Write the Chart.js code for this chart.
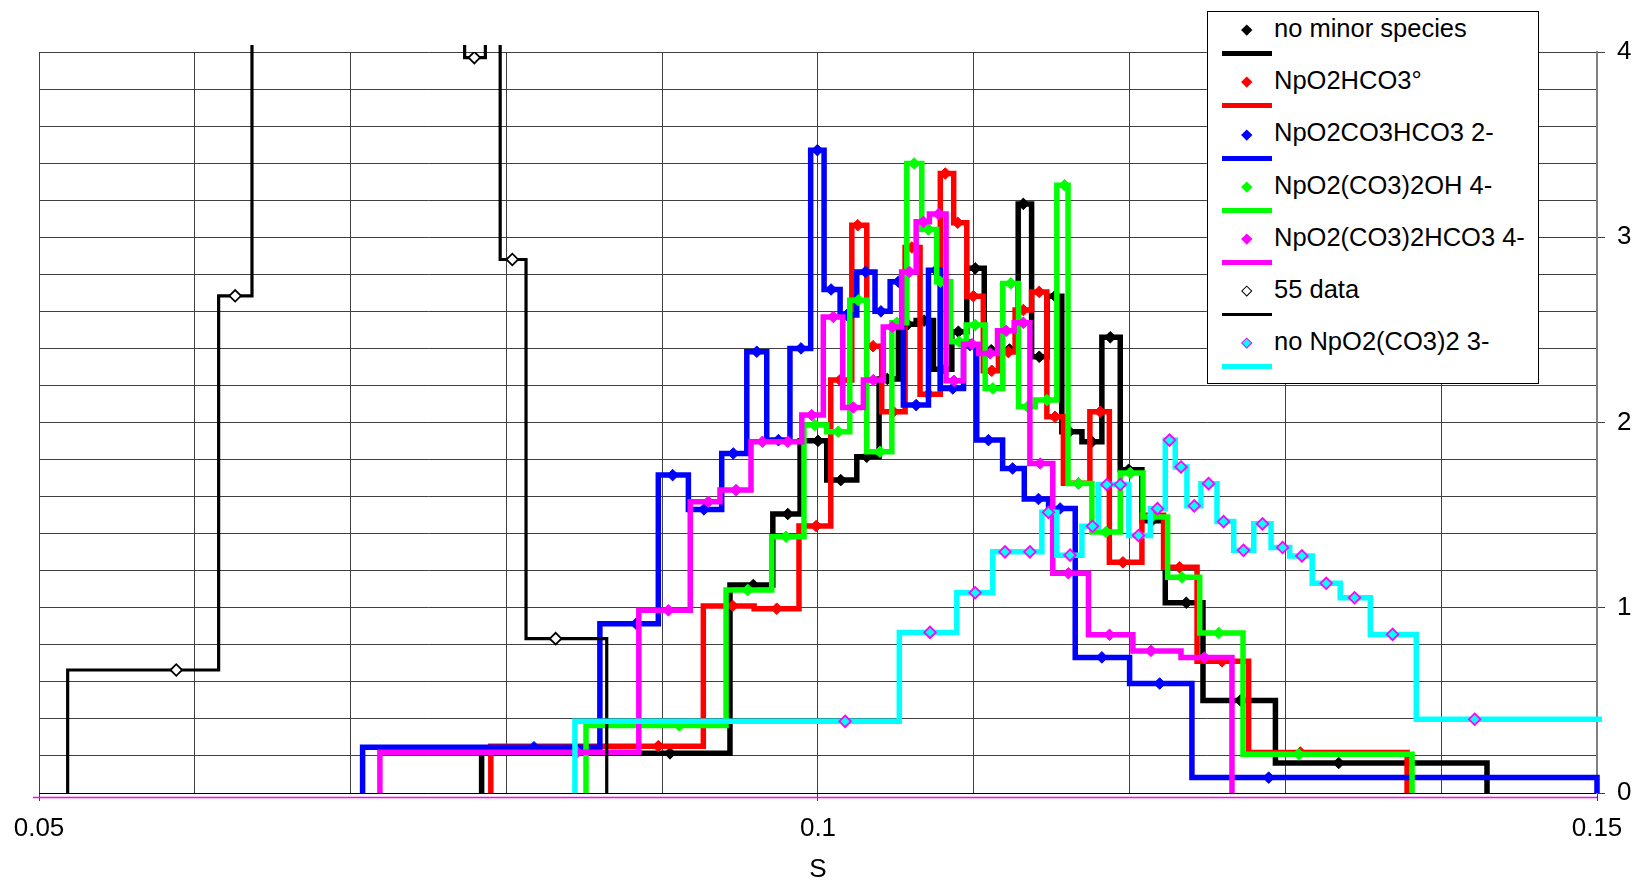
<!DOCTYPE html>
<html lang="en">
<head>
    <meta charset="UTF-8">
    <title>S distribution</title>
    <script src="https://cdn.jsdelivr.net/npm/chart.js"></script>
    <style>
        body {
            margin: 0;
            padding: 0;
            background: #fff;
            font-family: 'Liberation Sans', Arial, sans-serif;
        }
        .wrap {
            position: relative;
            width: 1636px;
            height: 885px;
        }
        #legend {
            position: absolute;
            left: 1207px;
            top: 11px;
            width: 330px;
            height: 371px;
            border: 1.5px solid #000;
            background: #fff;
        }
        .lg-mark {
            position: absolute;
            width: 7.5px;
            height: 7.5px;
            box-sizing: border-box;
            transform: rotate(45deg);
        }
        .lg-line {
            position: absolute;
            left: 14px;
            width: 50px;
        }
        .lg-text {
            position: absolute;
            left: 66px;
            font-size: 25.5px;
            line-height: 30px;
            color: #000;
            white-space: nowrap;
        }
    </style>
</head>
<body>
<div class="wrap">
    <canvas id="sChart" width="1636" height="885"></canvas>
    <div id="legend"></div>
</div>
<script>
    // bin edges (x), bin heights and marker positions for every series
    const blackEdges = [0.07841, 0.09435, 0.0971, 0.09885, 0.10056, 0.10249, 0.10392, 0.10516, 0.1063, 0.10741,
        0.10859, 0.10955, 0.11067, 0.1117, 0.11285, 0.11371, 0.1147, 0.11565, 0.11694, 0.11822,
        0.1194, 0.12079, 0.12229, 0.12471, 0.12936, 0.14294];
    const blackValues = [0.214, 1.123, 1.506, 1.901, 1.689, 1.815, 2.235, 2.53, 2.55, 2.287,
        2.49, 2.832, 2.39, 2.394, 3.18, 2.355, 2.682, 1.95, 1.896, 2.46,
        1.745, 1.47, 1.027, 0.5, 0.162];
    const blackMarks = [0.0905, 0.09585, 0.09806, 0.1, 0.10146, 0.10313, 0.10445, 0.10576, 0.10681, 0.10795,
        0.10901, 0.11009, 0.11112, 0.11229, 0.11318, 0.1142, 0.11521, 0.11614, 0.11758, 0.11876,
        0.11994, 0.12143, 0.12364, 0.12711, 0.13342];

    const redEdges = [0.079, 0.09264, 0.0959, 0.09878, 0.10082, 0.10217, 0.10313, 0.10409, 0.10559, 0.10655,
        0.10785, 0.10871, 0.10955, 0.11061, 0.11158, 0.11265, 0.11371, 0.11469, 0.11575, 0.11745,
        0.1187, 0.12079, 0.12218, 0.12433, 0.12764, 0.13781];
    const redValues = [0.253, 1.01, 0.995, 1.441, 2.229, 3.065, 2.412, 2.058, 2.945, 2.153,
        3.344, 3.078, 2.682, 2.279, 2.38, 2.607, 2.705, 2.031, 1.672, 2.058,
        1.245, 1.5, 1.218, 0.711, 0.218];
    const redMarks = [0.08975, 0.09452, 0.09735, 0.09988, 0.10142, 0.10255, 0.10353, 0.10484, 0.10602, 0.10709,
        0.10817, 0.10897, 0.10997, 0.11115, 0.11222, 0.11318, 0.1142, 0.11521, 0.11672, 0.11811,
        0.11957, 0.1214, 0.12321, 0.12593, 0.13096];

    const blueEdges = [0.07077, 0.086, 0.08975, 0.09168, 0.09382, 0.09543, 0.09671, 0.0982, 0.09953, 0.10039,
        0.10142, 0.10249, 0.10366, 0.10463, 0.10548, 0.10709, 0.10785, 0.10934, 0.11019, 0.11185,
        0.11324, 0.1148, 0.11651, 0.12, 0.124, 0.15];
    const blueValues = [0.247, 0.914, 1.716, 1.531, 1.833, 2.382, 1.905, 2.4, 3.47, 2.718,
        2.58, 2.813, 2.6, 2.76, 2.094, 2.822, 2.184, 2.418, 1.905, 1.752,
        1.587, 1.536, 0.732, 0.591, 0.083];
    const blueMarks = [0.08177, 0.08832, 0.09067, 0.09268, 0.09456, 0.09607, 0.09746, 0.09891, 0.09996, 0.10084,
        0.10185, 0.10305, 0.10404, 0.10516, 0.1063, 0.10758, 0.10865, 0.10976, 0.11094, 0.11249,
        0.11415, 0.11554, 0.11822, 0.12193, 0.12893];

    const greenEdges = [0.08511, 0.0941, 0.09703, 0.0991, 0.10056, 0.10204, 0.10313, 0.10474, 0.1057, 0.10666,
        0.10762, 0.10852, 0.10951, 0.11073, 0.11186, 0.11287, 0.11394, 0.11533, 0.11605, 0.11758,
        0.1194, 0.12086, 0.12244, 0.1245, 0.12728, 0.13813];
    const greenValues = [0.365, 1.096, 1.383, 1.986, 1.95, 2.66, 1.842, 2.538, 3.398, 3.042,
        2.76, 2.436, 2.526, 2.184, 2.751, 2.085, 2.121, 3.281, 1.671, 1.409,
        1.727, 1.49, 1.164, 0.864, 0.209];
    const greenMarks = [0.0911, 0.09549, 0.09795, 0.0998, 0.1013, 0.10259, 0.10398, 0.10506, 0.10617, 0.10709,
        0.10785, 0.10907, 0.11009, 0.11122, 0.11238, 0.11345, 0.11469, 0.11582, 0.11672, 0.11849,
        0.12004, 0.12143, 0.12336, 0.12572, 0.13086];

    const magentaEdges = [0.07188, 0.0885, 0.0918, 0.09371, 0.0957, 0.0973, 0.09896, 0.10034, 0.10159, 0.10291,
        0.10419, 0.10537, 0.1063, 0.10715, 0.10822, 0.10934, 0.11031, 0.11152, 0.11259, 0.1136,
        0.11507, 0.11736, 0.12021, 0.1233, 0.12657];
    const magentaValues = [0.22, 0.986, 1.572, 1.635, 1.896, 1.896, 2.04, 2.57, 2.081, 2.229,
        2.516, 2.813, 3.083, 3.125, 2.225, 2.423, 2.373, 2.495, 2.538, 1.779,
        1.186, 0.854, 0.767, 0.731];
    const magentaMarks = [0.08455, 0.0904, 0.09296, 0.09474, 0.09643, 0.09806, 0.0996, 0.10098, 0.10227, 0.10355,
        0.10477, 0.10587, 0.10677, 0.10773, 0.10873, 0.10988, 0.11105, 0.11208, 0.11318, 0.11426,
        0.11607, 0.11871, 0.12137, 0.1248];

    // two bins run above the top of the axis; their heights are guesses
    const dataEdges = [0.05184, 0.06153, 0.06367, 0.07732, 0.07865, 0.0796, 0.08126, 0.08644];
    const dataValues = [0.664, 2.684, 5.0, 3.97, 4.6, 2.88, 0.833];
    const dataMarks = [0.05881, 0.06259, null, 0.07794, null, 0.08038, 0.08316];

    const cyanEdges = [0.0844, 0.10522, 0.10891, 0.11122, 0.1128, 0.11437, 0.11533, 0.11694, 0.118, 0.119,
        0.11995, 0.12133, 0.12229, 0.12293, 0.12368, 0.12458, 0.12561, 0.12668, 0.12797, 0.12908,
        0.13028, 0.13172, 0.13352, 0.13545, 0.1384, 0.152];
    const cyanValues = [0.387, 0.867, 1.081, 1.302, 1.302, 1.515, 1.284, 1.44, 1.665, 1.665,
        1.39, 1.535, 1.905, 1.76, 1.55, 1.67, 1.465, 1.31, 1.453, 1.325,
        1.28, 1.132, 1.054, 0.856, 0.398];
    const cyanMarks = [0.10174, 0.10719, 0.11009, 0.112, 0.1136, 0.11479, 0.11618, 0.11762, 0.11854, 0.1194,
        0.12057, 0.12179, 0.12256, 0.1233, 0.12415, 0.12507, 0.12603, 0.12731, 0.12853, 0.12982,
        0.13106, 0.13262, 0.13444, 0.13688, 0.14215];

    const xTicksShown = [0.05, 0.1, 0.15];
    const yTicksShown = [0, 1, 2, 3, 4];

    const series = [
        { name: 'no minor species', color: '#000000', width: 5.5, fill: '#000000', stroke: '#000000', edges: blackEdges, values: blackValues, marks: blackMarks },
        { name: 'NpO2HCO3°', color: '#ff0000', width: 5.5, fill: '#ff0000', stroke: '#ff0000', edges: redEdges, values: redValues, marks: redMarks },
        { name: 'NpO2CO3HCO3 2-', color: '#0000ff', width: 5.5, fill: '#0000ff', stroke: '#0000ff', edges: blueEdges, values: blueValues, marks: blueMarks },
        { name: 'NpO2(CO3)2OH 4-', color: '#00ff00', width: 5.5, fill: '#00ff00', stroke: '#00ff00', edges: greenEdges, values: greenValues, marks: greenMarks },
        { name: 'NpO2(CO3)2HCO3 4-', color: '#ff00ff', width: 5.5, fill: '#ff00ff', stroke: '#ff00ff', edges: magentaEdges, values: magentaValues, marks: magentaMarks },
        { name: '55 data', color: '#000000', width: 3.2, fill: '#ffffff', stroke: '#000000', edges: dataEdges, values: dataValues, marks: dataMarks },
        { name: 'no NpO2(CO3)2 3-', color: '#00ffff', width: 5.5, fill: '#00ffff', stroke: '#ff00ff', edges: cyanEdges, values: cyanValues, marks: cyanMarks }
    ];

    // histogram outline: up from 0, across each bin, back down to 0
    function stepPoints(edges, values) {
        const pts = [{ x: edges[0], y: 0 }];
        values.forEach((v, i) => {
            pts.push({ x: edges[i], y: v });
            pts.push({ x: edges[i + 1], y: v });
        });
        pts.push({ x: edges[edges.length - 1], y: 0 });
        return pts;
    }

    function markPoints(marks, values) {
        const pts = [];
        marks.forEach((m, i) => {
            if (m !== null) pts.push({ x: m, y: values[i] });
        });
        return pts;
    }

    const datasets = [];
    series.forEach((s, k) => {
        const depth = (series.length - 1 - k) * 2; // later series drawn on top
        datasets.push({
            label: s.name,
            data: stepPoints(s.edges, s.values),
            borderColor: s.color,
            borderWidth: s.width,
            borderJoinStyle: 'miter',
            borderCapStyle: 'butt',
            pointRadius: 0,
            fill: false,
            tension: 0,
            clip: { left: 3, right: 5, top: 7, bottom: 3 },
            order: depth + 1
        });
        datasets.push({
            label: s.name + ' markers',
            data: markPoints(s.marks, s.values),
            showLine: false,
            pointStyle: 'rectRot',
            pointRadius: 5.8,
            pointBackgroundColor: s.fill,
            pointBorderColor: s.stroke,
            pointBorderWidth: s.fill === s.stroke ? 1 : 1.8,
            order: depth
        });
    });

    const near = (v, list) => list.some(t => Math.abs(v - t) < 1e-6);

    // magenta base line just under the x axis
    const baseLine = {
        id: 'baseLine',
        afterDraw(chart) {
            const { ctx, chartArea } = chart;
            ctx.save();
            ctx.strokeStyle = '#ff00ff';
            ctx.lineWidth = 1.5;
            ctx.beginPath();
            ctx.moveTo(33, chartArea.bottom + 4.5);
            ctx.lineTo(chartArea.right, chartArea.bottom + 4.5);
            ctx.stroke();
            ctx.restore();
        }
    };

    const tickFont = { family: "'Liberation Sans', Arial, sans-serif", size: 26 };

    new Chart(document.getElementById('sChart'), {
        type: 'line',
        data: { datasets: datasets },
        options: {
            responsive: false,
            animation: false,
            events: [],
            layout: { padding: { left: 39, top: 52, right: 0, bottom: 0 } },
            plugins: {
                legend: { display: false },
                tooltip: { enabled: false }
            },
            scales: {
                x: {
                    type: 'linear',
                    min: 0.05,
                    max: 0.15,
                    afterFit: (scale) => { scale.height = 92; },
                    ticks: {
                        stepSize: 0.01,
                        autoSkip: false,
                        maxRotation: 0,
                        padding: 12,
                        color: '#000',
                        font: tickFont,
                        callback: (v) => near(v, xTicksShown) ? String(+v.toFixed(2)) : ''
                    },
                    grid: {
                        color: '#404040',
                        lineWidth: 1,
                        tickLength: 8,
                        tickColor: (ctx) => ctx.tick && near(ctx.tick.value, xTicksShown) ? '#404040' : 'rgba(0,0,0,0)'
                    },
                    border: { color: '#000', width: 1 },
                    title: {
                        display: true,
                        text: 'S',
                        color: '#000',
                        font: { family: "'Liberation Sans', Arial, sans-serif", size: 26, lineHeight: 1 },
                        padding: { top: 0, bottom: 2 }
                    }
                },
                y: {
                    position: 'right',
                    min: 0,
                    max: 4,
                    afterFit: (scale) => { scale.width = 39; },
                    ticks: {
                        stepSize: 0.2,
                        autoSkip: false,
                        padding: 12,
                        color: '#000',
                        font: tickFont,
                        callback: (v) => near(v, yTicksShown) ? String(Math.round(v)) : ''
                    },
                    grid: {
                        color: '#404040',
                        lineWidth: 1,
                        tickLength: 8,
                        tickColor: (ctx) => ctx.tick && near(ctx.tick.value, yTicksShown) ? '#404040' : 'rgba(0,0,0,0)'
                    },
                    border: { color: '#808080', width: 2 }
                }
            }
        },
        plugins: [baseLine]
    });

    // legend: marker row above a line sample, as in the original
    const legend = document.getElementById('legend');
    series.forEach((s, i) => {
        const rowY = 18 + i * 52.2;
        const mark = document.createElement('div');
        mark.className = 'lg-mark';
        mark.style.left = (38.5 - 3.75) + 'px';
        mark.style.top = (rowY - 3.75) + 'px';
        mark.style.background = s.fill;
        mark.style.border = s.fill === s.stroke ? 'none' : '1.5px solid ' + s.stroke;
        legend.appendChild(mark);

        const line = document.createElement('div');
        line.className = 'lg-line';
        line.style.top = (rowY + 24 - s.width / 2) + 'px';
        line.style.height = (s.width - 0.5) + 'px';
        line.style.background = s.color;
        legend.appendChild(line);

        const text = document.createElement('div');
        text.className = 'lg-text';
        text.style.top = (rowY - 17) + 'px';
        text.textContent = s.name;
        legend.appendChild(text);
    });
</script>
</body>
</html>
